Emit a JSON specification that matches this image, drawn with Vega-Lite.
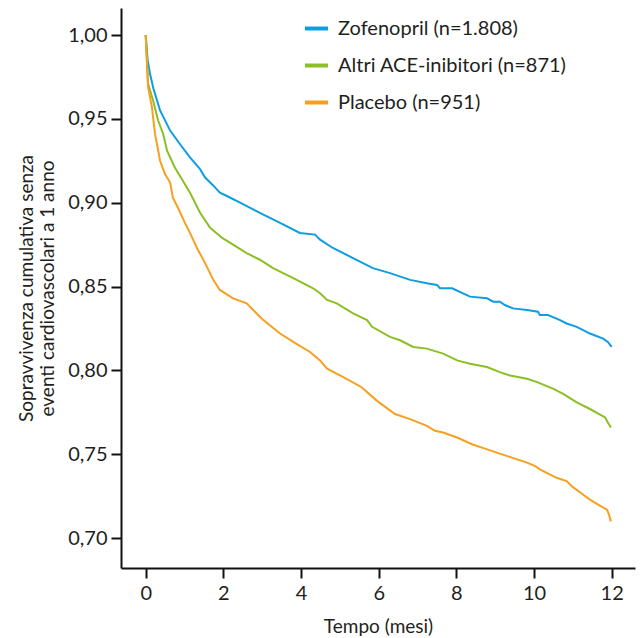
{
  "$schema": "https://vega.github.io/schema/vega-lite/v6.json",
  "width": 514,
  "height": 560,
  "autosize": {"type": "none"},
  "padding": {"left": 121, "top": 8, "right": 8, "bottom": 70},
  "background": "white",
  "config": {
    "view": {"stroke": null},
    "font": "Lato",
    "style": {"guide-title": {"fontWeight": "normal"}},
    "axis": {"grid": false, "domainColor": "#111111", "domainWidth": 2, "tickColor": "#111111", "tickWidth": 2, "tickSize": 10, "labelColor": "#231f20", "labelFontSize": 20, "labelFont": "Lato", "titleColor": "#231f20", "titleFont": "Lato", "titleFontWeight": "normal", "titleFontSize": 19}
  },
  "data": {"values": [
    {"g":"Zofenopril (n=1.808)","t":0,"s":1.0},{"g":"Zofenopril (n=1.808)","t":0.05,"s":0.985},{"g":"Zofenopril (n=1.808)","t":0.11,"s":0.977},{"g":"Zofenopril (n=1.808)","t":0.2,"s":0.968},{"g":"Zofenopril (n=1.808)","t":0.37,"s":0.955},{"g":"Zofenopril (n=1.808)","t":0.63,"s":0.943},{"g":"Zofenopril (n=1.808)","t":0.88,"s":0.935},{"g":"Zofenopril (n=1.808)","t":1.14,"s":0.927},{"g":"Zofenopril (n=1.808)","t":1.4,"s":0.92},{"g":"Zofenopril (n=1.808)","t":1.53,"s":0.915},{"g":"Zofenopril (n=1.808)","t":1.75,"s":0.91},{"g":"Zofenopril (n=1.808)","t":1.91,"s":0.906},{"g":"Zofenopril (n=1.808)","t":2.09,"s":0.904},{"g":"Zofenopril (n=1.808)","t":2.43,"s":0.9},{"g":"Zofenopril (n=1.808)","t":2.94,"s":0.894},{"g":"Zofenopril (n=1.808)","t":3.46,"s":0.888},{"g":"Zofenopril (n=1.808)","t":3.97,"s":0.882},{"g":"Zofenopril (n=1.808)","t":4.36,"s":0.881},{"g":"Zofenopril (n=1.808)","t":4.49,"s":0.878},{"g":"Zofenopril (n=1.808)","t":4.82,"s":0.873},{"g":"Zofenopril (n=1.808)","t":5.34,"s":0.867},{"g":"Zofenopril (n=1.808)","t":5.85,"s":0.861},{"g":"Zofenopril (n=1.808)","t":6.29,"s":0.858},{"g":"Zofenopril (n=1.808)","t":6.81,"s":0.854},{"g":"Zofenopril (n=1.808)","t":7.24,"s":0.852},{"g":"Zofenopril (n=1.808)","t":7.5,"s":0.851},{"g":"Zofenopril (n=1.808)","t":7.58,"s":0.849},{"g":"Zofenopril (n=1.808)","t":7.89,"s":0.849},{"g":"Zofenopril (n=1.808)","t":8.35,"s":0.844},{"g":"Zofenopril (n=1.808)","t":8.79,"s":0.843},{"g":"Zofenopril (n=1.808)","t":8.95,"s":0.841},{"g":"Zofenopril (n=1.808)","t":9.12,"s":0.841},{"g":"Zofenopril (n=1.808)","t":9.25,"s":0.839},{"g":"Zofenopril (n=1.808)","t":9.46,"s":0.837},{"g":"Zofenopril (n=1.808)","t":9.82,"s":0.836},{"g":"Zofenopril (n=1.808)","t":10.1,"s":0.835},{"g":"Zofenopril (n=1.808)","t":10.15,"s":0.833},{"g":"Zofenopril (n=1.808)","t":10.36,"s":0.833},{"g":"Zofenopril (n=1.808)","t":10.67,"s":0.83},{"g":"Zofenopril (n=1.808)","t":10.84,"s":0.828},{"g":"Zofenopril (n=1.808)","t":11.1,"s":0.826},{"g":"Zofenopril (n=1.808)","t":11.44,"s":0.822},{"g":"Zofenopril (n=1.808)","t":11.78,"s":0.819},{"g":"Zofenopril (n=1.808)","t":11.9,"s":0.817},{"g":"Zofenopril (n=1.808)","t":12.0,"s":0.814},
    {"g":"Altri ACE-inibitori (n=871)","t":0,"s":1.0},{"g":"Altri ACE-inibitori (n=871)","t":0.06,"s":0.971},{"g":"Altri ACE-inibitori (n=871)","t":0.19,"s":0.961},{"g":"Altri ACE-inibitori (n=871)","t":0.32,"s":0.949},{"g":"Altri ACE-inibitori (n=871)","t":0.45,"s":0.941},{"g":"Altri ACE-inibitori (n=871)","t":0.55,"s":0.931},{"g":"Altri ACE-inibitori (n=871)","t":0.75,"s":0.921},{"g":"Altri ACE-inibitori (n=871)","t":0.96,"s":0.913},{"g":"Altri ACE-inibitori (n=871)","t":1.14,"s":0.906},{"g":"Altri ACE-inibitori (n=871)","t":1.4,"s":0.894},{"g":"Altri ACE-inibitori (n=871)","t":1.66,"s":0.885},{"g":"Altri ACE-inibitori (n=871)","t":1.97,"s":0.879},{"g":"Altri ACE-inibitori (n=871)","t":2.25,"s":0.875},{"g":"Altri ACE-inibitori (n=871)","t":2.6,"s":0.87},{"g":"Altri ACE-inibitori (n=871)","t":2.94,"s":0.866},{"g":"Altri ACE-inibitori (n=871)","t":3.28,"s":0.861},{"g":"Altri ACE-inibitori (n=871)","t":3.8,"s":0.855},{"g":"Altri ACE-inibitori (n=871)","t":4.31,"s":0.849},{"g":"Altri ACE-inibitori (n=871)","t":4.49,"s":0.846},{"g":"Altri ACE-inibitori (n=871)","t":4.67,"s":0.842},{"g":"Altri ACE-inibitori (n=871)","t":4.92,"s":0.84},{"g":"Altri ACE-inibitori (n=871)","t":5.34,"s":0.834},{"g":"Altri ACE-inibitori (n=871)","t":5.7,"s":0.83},{"g":"Altri ACE-inibitori (n=871)","t":5.83,"s":0.826},{"g":"Altri ACE-inibitori (n=871)","t":6.29,"s":0.82},{"g":"Altri ACE-inibitori (n=871)","t":6.55,"s":0.818},{"g":"Altri ACE-inibitori (n=871)","t":6.89,"s":0.814},{"g":"Altri ACE-inibitori (n=871)","t":7.24,"s":0.813},{"g":"Altri ACE-inibitori (n=871)","t":7.66,"s":0.81},{"g":"Altri ACE-inibitori (n=871)","t":8.02,"s":0.806},{"g":"Altri ACE-inibitori (n=871)","t":8.35,"s":0.804},{"g":"Altri ACE-inibitori (n=871)","t":8.79,"s":0.802},{"g":"Altri ACE-inibitori (n=871)","t":9.12,"s":0.799},{"g":"Altri ACE-inibitori (n=871)","t":9.38,"s":0.797},{"g":"Altri ACE-inibitori (n=871)","t":9.82,"s":0.795},{"g":"Altri ACE-inibitori (n=871)","t":10.08,"s":0.793},{"g":"Altri ACE-inibitori (n=871)","t":10.5,"s":0.789},{"g":"Altri ACE-inibitori (n=871)","t":10.75,"s":0.786},{"g":"Altri ACE-inibitori (n=871)","t":11.1,"s":0.781},{"g":"Altri ACE-inibitori (n=871)","t":11.44,"s":0.777},{"g":"Altri ACE-inibitori (n=871)","t":11.83,"s":0.772},{"g":"Altri ACE-inibitori (n=871)","t":11.9,"s":0.769},{"g":"Altri ACE-inibitori (n=871)","t":11.98,"s":0.766},
    {"g":"Placebo (n=951)","t":0,"s":1.0},{"g":"Placebo (n=951)","t":0.06,"s":0.969},{"g":"Placebo (n=951)","t":0.16,"s":0.957},{"g":"Placebo (n=951)","t":0.24,"s":0.941},{"g":"Placebo (n=951)","t":0.29,"s":0.935},{"g":"Placebo (n=951)","t":0.37,"s":0.925},{"g":"Placebo (n=951)","t":0.5,"s":0.917},{"g":"Placebo (n=951)","t":0.63,"s":0.912},{"g":"Placebo (n=951)","t":0.7,"s":0.903},{"g":"Placebo (n=951)","t":0.83,"s":0.897},{"g":"Placebo (n=951)","t":1.01,"s":0.888},{"g":"Placebo (n=951)","t":1.14,"s":0.882},{"g":"Placebo (n=951)","t":1.32,"s":0.873},{"g":"Placebo (n=951)","t":1.53,"s":0.864},{"g":"Placebo (n=951)","t":1.74,"s":0.854},{"g":"Placebo (n=951)","t":1.91,"s":0.848},{"g":"Placebo (n=951)","t":2.25,"s":0.843},{"g":"Placebo (n=951)","t":2.6,"s":0.84},{"g":"Placebo (n=951)","t":2.94,"s":0.832},{"g":"Placebo (n=951)","t":3.03,"s":0.83},{"g":"Placebo (n=951)","t":3.46,"s":0.822},{"g":"Placebo (n=951)","t":3.8,"s":0.817},{"g":"Placebo (n=951)","t":4.23,"s":0.811},{"g":"Placebo (n=951)","t":4.49,"s":0.806},{"g":"Placebo (n=951)","t":4.67,"s":0.801},{"g":"Placebo (n=951)","t":5.09,"s":0.796},{"g":"Placebo (n=951)","t":5.56,"s":0.79},{"g":"Placebo (n=951)","t":5.95,"s":0.782},{"g":"Placebo (n=951)","t":6.42,"s":0.774},{"g":"Placebo (n=951)","t":6.81,"s":0.771},{"g":"Placebo (n=951)","t":7.24,"s":0.767},{"g":"Placebo (n=951)","t":7.45,"s":0.764},{"g":"Placebo (n=951)","t":7.66,"s":0.763},{"g":"Placebo (n=951)","t":8.02,"s":0.76},{"g":"Placebo (n=951)","t":8.4,"s":0.756},{"g":"Placebo (n=951)","t":8.66,"s":0.754},{"g":"Placebo (n=951)","t":9.04,"s":0.751},{"g":"Placebo (n=951)","t":9.43,"s":0.748},{"g":"Placebo (n=951)","t":9.82,"s":0.745},{"g":"Placebo (n=951)","t":10.03,"s":0.743},{"g":"Placebo (n=951)","t":10.15,"s":0.741},{"g":"Placebo (n=951)","t":10.58,"s":0.736},{"g":"Placebo (n=951)","t":10.84,"s":0.734},{"g":"Placebo (n=951)","t":10.97,"s":0.731},{"g":"Placebo (n=951)","t":11.26,"s":0.726},{"g":"Placebo (n=951)","t":11.44,"s":0.723},{"g":"Placebo (n=951)","t":11.65,"s":0.72},{"g":"Placebo (n=951)","t":11.88,"s":0.717},{"g":"Placebo (n=951)","t":11.93,"s":0.714},{"g":"Placebo (n=951)","t":11.98,"s":0.71}
  ]},
  "mark": {"type": "line", "strokeWidth": 2, "interpolate": "linear"},
  "encoding": {
    "x": {"field": "t", "type": "quantitative", "scale": {"domain": [-0.636, 12.6], "nice": false, "zero": false},
      "axis": {"values": [0,2,4,6,8,10,12], "title": "Tempo (mesi)", "labelPadding": 5, "titlePadding": 14}},
    "y": {"field": "s", "type": "quantitative", "scale": {"domain": [0.6822, 1.0161], "nice": false, "zero": false},
      "axis": {"values": [0.70,0.75,0.80,0.85,0.90,0.95,1.00], "labelExpr": "replace(format(datum.value, '.2f'), '.', ',')", "labelPadding": 4,
        "title": ["Sopravvivenza cumulativa senza", "eventi cardiovascolari a 1 anno"], "titleLineHeight": 21, "titlePadding": 10}},
    "color": {"field": "g", "type": "nominal",
      "scale": {"domain": ["Zofenopril (n=1.808)", "Altri ACE-inibitori (n=871)", "Placebo (n=951)"], "range": ["#0f9de0", "#8cbf24", "#f7a020"]},
      "legend": {"orient": "none", "legendX": 182, "legendY": 7, "title": null, "symbolType": "stroke", "symbolSize": 529, "symbolStrokeWidth": 4,
        "labelFontSize": 20, "labelColor": "#231f20", "labelFont": "Lato", "labelOffset": 8, "labelLimit": 400, "rowPadding": 13}},
    "order": {"field": "t", "type": "quantitative"}
  }
}
